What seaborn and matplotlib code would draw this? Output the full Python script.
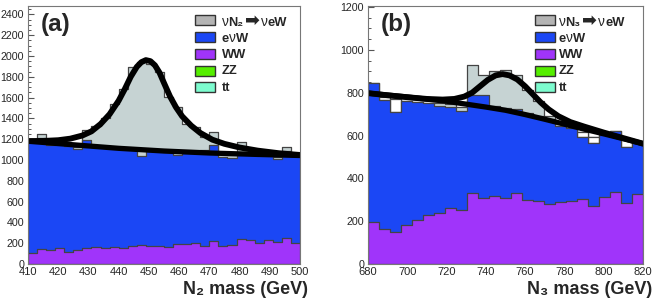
import numpy as np
import pandas as pd
import matplotlib
matplotlib.use("Agg")
import matplotlib.pyplot as plt
import seaborn as sns
from matplotlib.patches import Rectangle
from matplotlib.ticker import MultipleLocator
from matplotlib.offsetbox import TextArea, HPacker, AnchoredOffsetbox

# ---------------- data: panel (a) ----------------
a_range = (410, 500)
a_nbins = 30
ww_a = [110, 148, 132, 152, 116, 135, 152, 161, 158, 161, 152, 174, 181, 174, 171,
        165, 194, 197, 200, 174, 223, 177, 181, 245, 226, 200, 229, 210, 252, 206]
evw_a = [1075, 1067, 1008, 998, 1019, 970, 1038, 964, 962, 954, 958, 931, 859, 916, 924,
         915, 851, 888, 880, 921, 917, 853, 839, 835, 834, 855, 831, 800, 838, 834]
sig_a = [5, 30, 20, 10, 15, 20, 100, 200, 280, 425, 575, 785, 900, 835, 755,
         530, 465, 260, 235, 130, 130, 30, 30, 90, 35, 45, 15, 15, 30, 15]
fit_a_x = [410, 415, 420, 424, 428, 431, 434, 437, 440, 442, 444, 446, 447.5, 449, 450.5,
           452, 453.5, 455, 457, 459, 461, 464, 467, 471, 475, 480, 486, 493, 500]
fit_a_y = [1182, 1183, 1190, 1205, 1235, 1275, 1345, 1440, 1570, 1680, 1800, 1895, 1940, 1960, 1950,
           1910, 1840, 1740, 1610, 1505, 1420, 1330, 1260, 1195, 1155, 1120, 1090, 1065, 1048]
bkg_a_x = [410, 425, 440, 455, 470, 485, 500]
bkg_a_y = [1180, 1146, 1112, 1086, 1067, 1054, 1043]
a_xticks = [410, 420, 430, 440, 450, 460, 470, 480, 490, 500]
a_ymax = 2480
a_legend = ["νN₂ ➡ νeW", "eνW", "WW", "ZZ", "tt"]
a_title = "N₂ mass (GeV)"

# ---------------- data: panel (b) ----------------
b_range = (680, 820)
b_nbins = 25
ww_b = [195, 165, 151, 181, 206, 228, 238, 263, 254, 330, 307, 316, 307, 333, 299,
        296, 279, 288, 294, 302, 273, 313, 335, 287, 327]
evw_b = [650, 602, 558, 579, 551, 524, 502, 472, 462, 460, 483, 424, 420, 390, 405,
         396, 397, 355, 340, 293, 293, 290, 287, 258, 237]
sig_b = [0, -11, -61, 0, 0, 0, 14, 12, 19, 140, 93, 160, 180, 161, 109,
         67, 13, 23, 16, -23, -29, 0, 0, -38, 0]
fit_b_x = [680, 690, 700, 710, 718, 724, 729, 733, 737, 741, 745, 748.5, 752, 756, 760,
           764, 768, 772, 777, 783, 790, 800, 810, 820]
fit_b_y = [798, 788, 779, 771, 768, 771, 782, 800, 830, 860, 881, 887, 881, 862, 830,
           792, 754, 722, 690, 663, 642, 614, 588, 562]
bkg_b_x = [680, 700, 720, 740, 750, 760, 770, 780, 790, 800, 810, 820]
bkg_b_y = [798, 780, 760, 733, 718, 698, 676, 653, 630, 608, 585, 562]
b_xticks = [680, 700, 720, 740, 760, 780, 800, 820]
b_ymax = 1205
b_legend = ["νN₃ ➡ νeW", "eνW", "WW", "ZZ", "tt"]
b_title = "N₃ mass (GeV)"

# ---------------- style ----------------
SIG = "#c6d3d3"
SIG_LEG = "#b4b4b4"
BLUE = "#1b47f5"
PURPLE = "#a034fa"
GREEN = "#55ee00"
MINT = "#7dfccf"
EDGE = "#444444"
legend_colors = [SIG_LEG, BLUE, PURPLE, GREEN, MINT]

sns.set_style("white")
FAM = ["Liberation Sans", "DejaVu Sans"]
plt.rcParams["font.family"] = FAM

W, H = 654, 302
fig = plt.figure(figsize=(W / 100, H / 100), dpi=100)


def fx(x):
    return x / W


def fy(y):
    return 1 - y / H


def draw(ax, rng, nb, ww, evw, sig, fitx, fity, bx, by, xticks, ymax):
    binw = (rng[1] - rng[0]) / nb
    centers = rng[0] + binw * (np.arange(nb) + 0.5)
    ww = np.asarray(ww, float)
    evw = np.asarray(evw, float)
    sig = np.asarray(sig, float)
    bkg = ww + evw
    top = bkg + np.abs(sig)
    df = pd.DataFrame({"m": centers, "top": top, "bkg": bkg, "ww": ww})
    kw = dict(x="m", bins=nb, binrange=rng, element="step", fill=True, alpha=1,
              linewidth=0.9, edgecolor=EDGE, ax=ax)
    sns.histplot(data=df, weights="top", color=SIG, **kw)
    neg = sig < 0
    ax.bar(centers[neg], -sig[neg], bottom=bkg[neg], width=binw,
           color="white", edgecolor=EDGE, linewidth=0.9)
    sns.histplot(data=df, weights="bkg", color=BLUE, **kw)
    sns.histplot(data=df, weights="ww", color=PURPLE, **kw)
    sns.lineplot(x=bx, y=by, ax=ax, color="black", linewidth=3.8)
    sns.lineplot(x=fitx, y=fity, ax=ax, color="black", linewidth=4.2)
    ax.set_xlim(rng)
    ax.set_ylim(0, ymax)
    ax.set_xticks(xticks)
    ax.set_xticklabels([str(t) for t in xticks])
    ax.yaxis.set_major_locator(MultipleLocator(200))
    ax.yaxis.set_minor_locator(MultipleLocator(50))
    ax.set_xlabel("")
    ax.set_ylabel("")
    ax.set_axisbelow(True)
    ax.tick_params(axis="y", which="major", direction="in", length=4.5, width=0.8,
                   color="#555555", labelsize=7.7, pad=2.8, left=True, right=False)
    ax.tick_params(axis="y", which="minor", direction="in", length=2.3, width=0.7,
                   color="#555555", left=True, right=False)
    ax.tick_params(axis="x", which="major", direction="in", length=0, labelsize=8.0, pad=2.5)
    for s in ax.spines.values():
        s.set_color("#777777")
        s.set_linewidth(0.8)
    ax.grid(False)


ax_a = fig.add_axes([fx(28), fy(264), (300 - 28) / W, 258 / H])
ax_b = fig.add_axes([fx(368), fy(264), (643 - 368) / W, 258 / H])

draw(ax_a, a_range, a_nbins, ww_a, evw_a, sig_a, fit_a_x, fit_a_y, bkg_a_x, bkg_a_y, a_xticks, a_ymax)
draw(ax_b, b_range, b_nbins, ww_b, evw_b, sig_b, fit_b_x, fit_b_y, bkg_b_x, bkg_b_y, b_xticks, b_ymax)


def runs_of(label):
    """Split a label into runs: Greek nu regular, arrow in DejaVu, spaces narrow, rest bold."""
    out = []
    for ch in label:
        if ch == "ν":
            kind = "nu"
        elif ch == "➡":
            kind = "arrow"
        elif ch == " ":
            kind = "space"
        else:
            kind = "bold"
        if out and out[-1][1] == kind:
            out[-1][0] += ch
        else:
            out.append([ch, kind])
    return out


def rich_text(x, y, label, size):
    boxes = []
    for txt, kind in runs_of(label):
        if kind == "nu":
            props = dict(fontsize=size + 0.5, fontweight="normal", family=FAM)
        elif kind == "arrow":
            props = dict(fontsize=size + 3.5, fontweight="bold", family=["DejaVu Sans"])
        elif kind == "space":
            props = dict(fontsize=size * 0.4, family=FAM)
        else:
            props = dict(fontsize=size, fontweight="bold", family=FAM)
        boxes.append(TextArea(txt, textprops=props))
    pack = HPacker(children=boxes, align="baseline", pad=0, sep=0)
    ab = AnchoredOffsetbox(loc="center left", child=pack, bbox_to_anchor=(fx(x), fy(y)),
                           bbox_transform=fig.transFigure, frameon=False, pad=0, borderpad=0)
    fig.add_artist(ab)


# legends
rows = [20, 37.3, 54, 70.7, 87.3]


def legend(box_x, text_x, labels):
    for yy, lab, col in zip(rows, labels, legend_colors):
        fig.add_artist(Rectangle((fx(box_x), fy(yy + 5)), 20 / W, 10 / H,
                                 transform=fig.transFigure, facecolor=col,
                                 edgecolor="#333333", linewidth=1.0))
        rich_text(text_x, yy + 0.5, lab, 9.3)


legend(195, 221.5, a_legend)
legend(535, 558.5, b_legend)

# panel letters
fig.text(fx(40.5), fy(25), "(a)", ha="left", va="center", fontsize=17.5,
         fontweight="bold", family=FAM)
fig.text(fx(381), fy(25), "(b)", ha="left", va="center", fontsize=17.5,
         fontweight="bold", family=FAM)

# axis titles
fig.text(fx(308), fy(289), a_title, ha="right", va="center", fontsize=13,
         fontweight="bold", family=FAM)
fig.text(fx(652), fy(289), b_title, ha="right", va="center", fontsize=13,
         fontweight="bold", family=FAM)

fig.savefig("out.png", dpi=100)
